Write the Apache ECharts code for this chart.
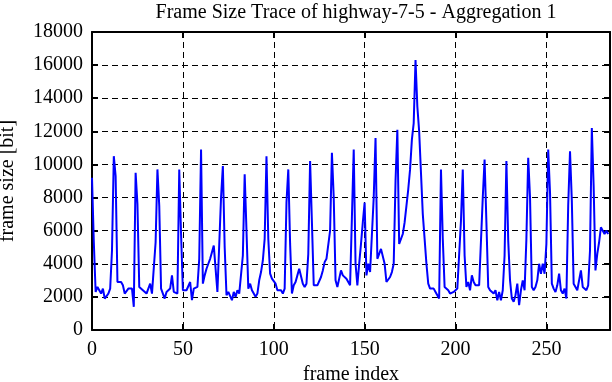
<!DOCTYPE html>
<html>
<head>
<meta charset="utf-8">
<script src="https://cdn.jsdelivr.net/npm/echarts@6/dist/echarts.min.js"></script>
<style>
html,body{margin:0;padding:0;background:#fff;}
#chart{width:612px;height:382px;}
</style>
</head>
<body>
<div id="chart"></div>
<script>
// Frame sizes [bit], frame index 0..285
var frameSizes = [
 9200,5300,2300,2600,2400,2200,2500,1900,2000,2200,
 2500,4800,10500,9300,2900,2800,2900,2700,2200,2300,
 2500,2600,2500,1400,9500,7600,2600,2500,2400,2300,
 2200,2300,2800,2200,2300,5300,9700,7500,2500,2500,
 1900,2300,2400,2500,3300,2300,2400,2200,9700,5800,
 2400,2500,2400,2500,2900,1800,2500,2500,2600,4300,
 10900,2800,3300,3700,4000,4300,4700,5100,5000,2300,
 2400,8000,9900,5000,2100,2300,2200,1800,2300,2000,
 2400,2200,2300,4500,9400,6000,2500,2800,2400,2200,
 2000,2200,3000,3500,4200,5500,10500,5500,3400,3100,
 3000,2800,2400,2300,2400,2200,2500,7700,9700,5200,
 2200,2700,2900,3300,3700,3600,2800,2600,2800,4600,
 10200,6500,2700,2600,2700,2800,3200,3600,4100,4300,
 4200,6000,10700,8000,3000,2600,2700,3600,3300,3200,
 3100,3000,2700,6800,10900,4000,2700,4000,5200,6500,
 7700,3300,4000,3500,3600,8000,11600,4300,4600,4900,
 4800,4000,2900,2800,3200,3500,4000,9000,12100,5200,
 5300,5800,6500,7500,8500,9700,11500,12500,16300,13500,
 12000,9500,7000,5500,4000,2800,2500,2400,2500,2300,
 2400,1900,9700,5500,2600,2500,2400,2200,2100,2300,
 2400,2500,2600,6600,9700,4500,2600,2900,2400,3300,
 2900,2700,2600,2700,2800,8000,10300,6500,2600,2400,
 2300,2200,2400,1800,2300,1800,2400,4500,10200,5400,
 3000,1900,1700,2100,2800,1500,2400,3000,2400,5500,
 10400,8000,2600,2400,2600,3000,4000,3400,4000,3400,
 5200,10900,8300,2800,2500,2300,2700,3400,2400,2200,
 2500,1900,7500,10800,7800,2800,2600,2400,2500,3600,
 2600,2500,2400,2700,4800,12200,8700,3600,4600,5300,
 6200,6100,5800,6000,5800
];
var xTickStep = 50;
var yTickStep = 2000;
var titleText = 'Frame Size Trace of highway-7-5 - Aggregation 1';
var xName = 'frame index';
var yName = 'frame size [bit]';

var seriesData = frameSizes.map(function (v, i) { return [i, v]; });
var FONT = '"Liberation Serif", "DejaVu Serif", serif';
var FS = 20;
var gridLine = { show: true, lineStyle: { color: '#000', type: [6, 4], width: 1 } };
var borderLine = { show: true, onZero: false, lineStyle: { color: '#000', width: 2 } };
var tick = { show: true, inside: true, length: 6, lineStyle: { color: '#000', width: 2 } };

var chart = echarts.init(document.getElementById('chart'), null, { renderer: 'canvas' });
chart.setOption({
  animation: false,
  backgroundColor: '#fff',
  title: {
    text: titleText, left: 351, top: -2, textAlign: 'center',
    textStyle: { fontFamily: FONT, fontSize: FS, fontWeight: 'normal', color: '#000' }
  },
  grid: { left: 92, right: 2, top: 32, bottom: 52, containLabel: false, outerBoundsMode: 'none' },
  xAxis: [{
    type: 'value', min: 0, max: 285, interval: xTickStep,
    name: xName, nameLocation: 'middle', nameGap: 33,
    nameTextStyle: { fontFamily: FONT, fontSize: FS, color: '#000' },
    axisLine: borderLine, axisTick: tick,
    axisLabel: { fontFamily: FONT, fontSize: FS, color: '#000', margin: 10, showMaxLabel: false },
    splitLine: gridLine
  }, {
    type: 'value', position: 'top', min: 0, max: 285, interval: xTickStep,
    axisLine: borderLine, axisTick: tick,
    axisLabel: { show: false }, splitLine: { show: false }
  }],
  yAxis: [{
    type: 'value', min: 0, max: 18000, interval: yTickStep,
    name: yName, nameLocation: 'middle', nameGap: 74, nameRotate: 90,
    nameTextStyle: { fontFamily: FONT, fontSize: FS, color: '#000' },
    axisLine: borderLine, axisTick: tick,
    axisLabel: { fontFamily: FONT, fontSize: FS, color: '#000', margin: 9,
      formatter: function (v) { return String(v); } },
    splitLine: gridLine
  }, {
    type: 'value', position: 'right', min: 0, max: 18000, interval: yTickStep,
    axisLine: borderLine, axisTick: tick,
    axisLabel: { show: false }, splitLine: { show: false }
  }],
  series: [{
    type: 'line', xAxisIndex: 0, yAxisIndex: 0,
    data: seriesData, showSymbol: false, symbol: 'none',
    lineStyle: { color: '#0000ff', width: 2 }, z: 5
  }]
});
</script>
</body>
</html>
